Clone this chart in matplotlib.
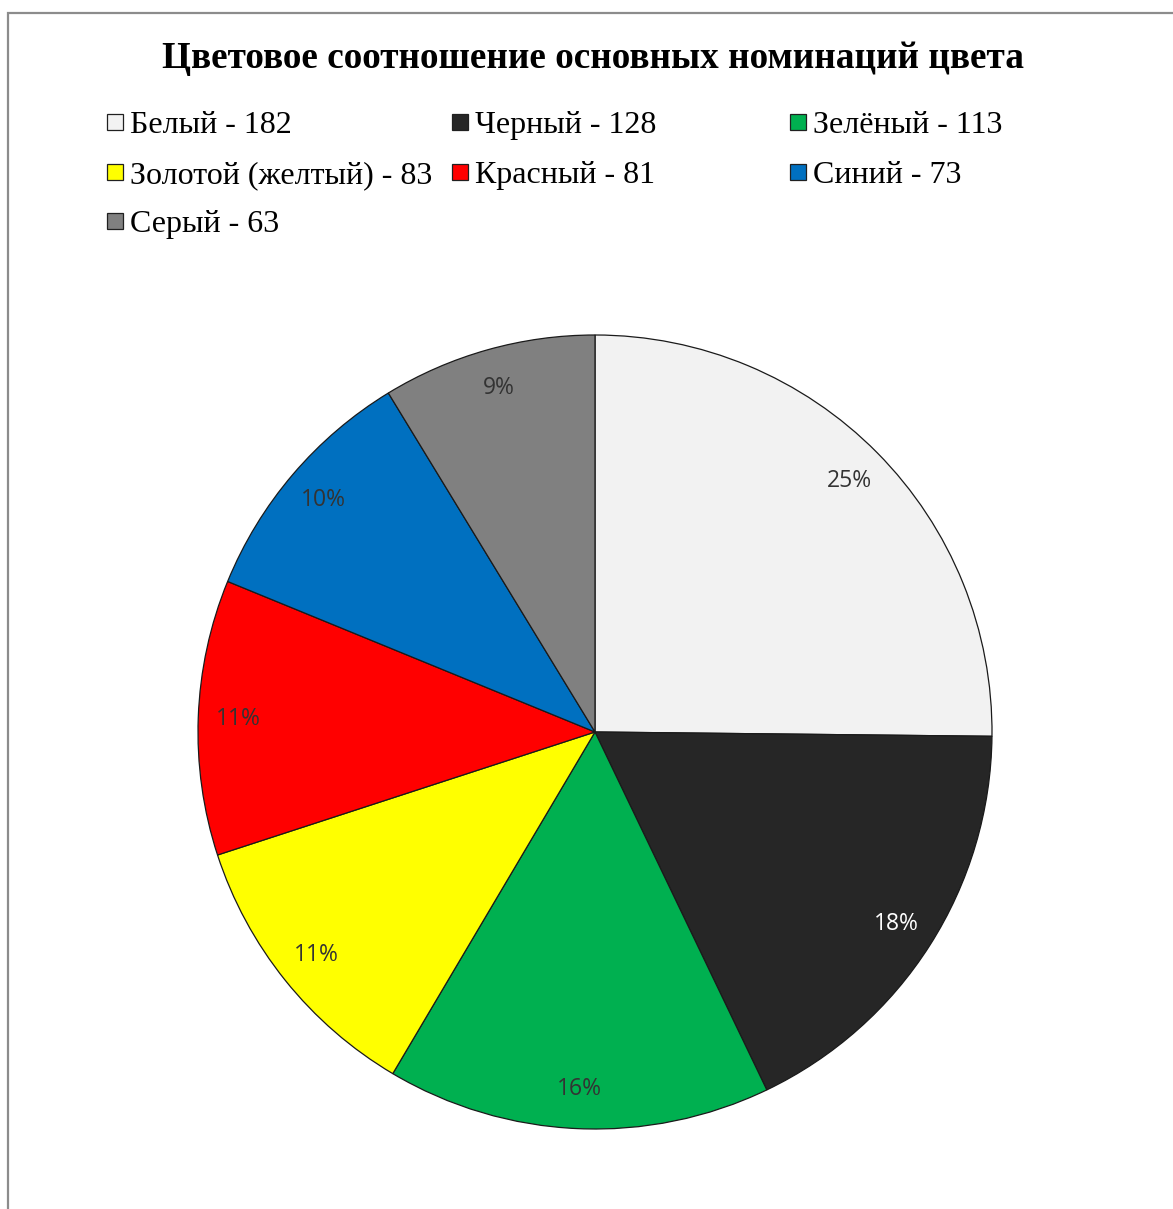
import matplotlib.pyplot as plt
from matplotlib.patches import Rectangle

W, H = 1173, 1209

names = ["Белый", "Черный", "Зелёный", "Золотой (желтый)", "Красный", "Синий", "Серый"]
counts = [182, 128, 113, 83, 81, 73, 63]
colors = ["#F2F2F2", "#262626", "#00B050", "#FFFF00", "#FF0000", "#0070C0", "#808080"]
title = "Цветовое соотношение основных номинаций цвета"


def fx(px):
    return px / W


def fy(py):
    return 1 - py / H


fig = plt.figure(figsize=(W / 100, H / 100), dpi=100)

# outer chart border (cut at right/bottom like the screenshot)
fig.patches.append(Rectangle((fx(8), fy(1230)), fx(1200), (1230 - 13) / H, transform=fig.transFigure,
                             fill=False, edgecolor="#8C8C8C", linewidth=1.6))

fig.text(fx(593), fy(68), title, ha="center", va="baseline",
         fontsize=26.8, fontweight="bold", family="Liberation Serif")

# legend, filled row by row like Excel
col_x = [107, 452, 790]
row_y = [122, 172, 221]
for i, (n, c, col) in enumerate(zip(names, counts, colors)):
    x0 = col_x[i % 3]
    y0 = row_y[i // 3]
    fig.patches.append(Rectangle((fx(x0), fy(y0 + 8)), fx(16), 16 / H, transform=fig.transFigure,
                                 facecolor=col, edgecolor="#202020", linewidth=0.9))
    fig.text(fx(x0 + 23), fy(y0 + 11), f"{n} - {c}", ha="left", va="baseline",
             fontsize=23, family="Liberation Serif")

ax = fig.add_axes([fx(198), fy(1129), fx(794), 794 / H])
wedges, texts, autotexts = ax.pie(counts, colors=colors, startangle=90, counterclock=False,
                                  autopct="%1.0f%%", pctdistance=0.9,
                                  wedgeprops=dict(edgecolor="#1a1a1a", linewidth=0.9),
                                  textprops=dict(fontsize=16.5, family="Open Sans", color="#333333"))
autotexts[1].set_color("white")
ax.set_xlim(-1, 1)
ax.set_ylim(-1, 1)
ax.set_aspect("equal")

fig.savefig("out.png", dpi=100)
